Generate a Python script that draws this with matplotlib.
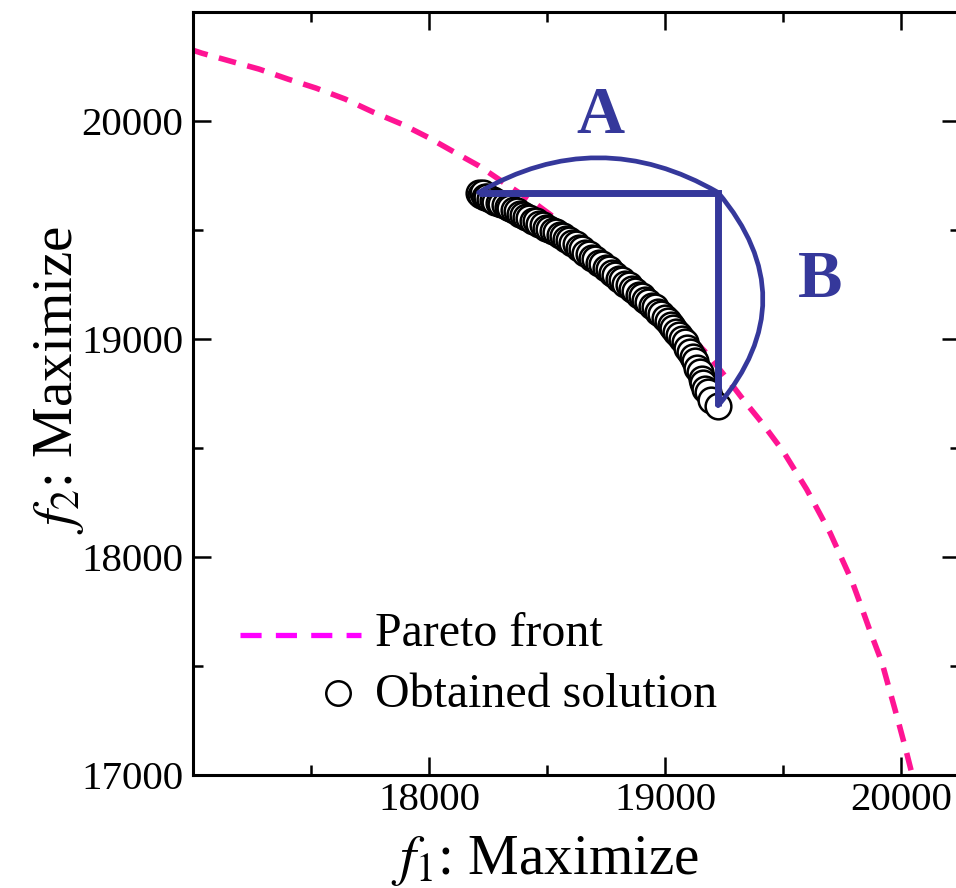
import matplotlib
matplotlib.use("Agg")
import matplotlib.pyplot as plt
from matplotlib.patches import FancyArrowPatch
from matplotlib.ticker import FixedLocator

plt.rcParams["font.family"] = ["Liberation Serif", "DejaVu Serif"]
plt.rcParams["mathtext.fontset"] = "stix"

# Pareto front (f1, f2)
pareto_f1 = [16990, 17038, 17157, 17280, 17403, 17521, 17644, 17763, 17886, 17996,
             18114, 18212, 18331, 18441, 18521, 18700, 18850, 19000, 19178, 19280,
             19335, 19407, 19500, 19600, 19700, 19792, 19831, 19873, 19919, 19953,
             19987, 20021, 20050]
pareto_f2 = [20328, 20311, 20275, 20238, 20192, 20151, 20101, 20041, 19985, 19925,
             19853, 19794, 19707, 19629, 19565, 19420, 19290, 19131, 18933, 18795,
             18717, 18621, 18486, 18311, 18110, 17890, 17775, 17648, 17517, 17384,
             17252, 17114, 16990]

# Obtained solutions (f1, f2)
solution_f1 = [18210, 18219, 18227, 18238, 18246, 18257, 18270, 18281, 18295, 18306,
               18320, 18333, 18345, 18360, 18372, 18387, 18398, 18413, 18425, 18440,
               18453, 18468, 18481, 18497, 18509, 18524, 18538, 18553, 18566, 18580,
               18595, 18607, 18622, 18636, 18650, 18663, 18678, 18692, 18705, 18720,
               18733, 18748, 18761, 18776, 18790, 18803, 18818, 18831, 18846, 18860,
               18873, 18888, 18901, 18916, 18929, 18944, 18957, 18972, 18985, 18999,
               19011, 19024, 19035, 19048, 19059, 19071, 19083, 19095, 19106, 19117,
               19127, 19137, 19147, 19155, 19163, 19171, 19182, 19195, 19225]
solution_f2 = [19672, 19660, 19668, 19653, 19650, 19640, 19637, 19628, 19626, 19618,
               19615, 19604, 19601, 19590, 19586, 19575, 19571, 19560, 19555, 19543,
               19539, 19527, 19523, 19511, 19506, 19494, 19490, 19477, 19472, 19459,
               19454, 19440, 19434, 19419, 19412, 19396, 19389, 19372, 19366, 19348,
               19343, 19325, 19319, 19301, 19295, 19277, 19271, 19253, 19247, 19229,
               19222, 19203, 19196, 19178, 19171, 19152, 19145, 19125, 19116, 19096,
               19083, 19064, 19052, 19031, 19019, 18998, 18984, 18960, 18942, 18916,
               18897, 18868, 18848, 18818, 18800, 18772, 18755, 18722, 18694]

x_ticks = [18000, 19000, 20000]
x_minor = [17500, 18500, 19500]
y_ticks = [17000, 18000, 19000, 20000]
y_minor = [17500, 18500, 19500]

PINK = "#ff1493"
LEGEND_PINK = "#ff00ff"
BLUE = "#35389b"

fig = plt.figure(figsize=(9.56, 8.88), dpi=100)
ax = fig.add_axes([193 / 956, 113 / 888, 767 / 956, 763 / 888])

# Pareto front
ax.plot(pareto_f1, pareto_f2, color=PINK, lw=4, dashes=(3.2, 2.1),
        dash_capstyle="butt", zorder=2)

# Obtained solutions
ax.scatter(solution_f1, solution_f2, s=18.5 ** 2, facecolor="white",
           edgecolor="black", linewidths=1.8, zorder=3)

# Extent brackets of the obtained solutions
f1_min, f1_max = min(solution_f1), max(solution_f1)
f2_min, f2_max = min(solution_f2), max(solution_f2)
ax.plot([f1_min, f1_max, f1_max], [f2_max, f2_max, f2_min], color=BLUE, lw=5,
        solid_joinstyle="miter", solid_capstyle="butt", zorder=4)
arc_a = FancyArrowPatch((f1_min, f2_max), (f1_max, f2_max),
                        connectionstyle="arc3,rad=-0.29", arrowstyle="-",
                        color=BLUE, lw=3.4, shrinkA=0, shrinkB=0, zorder=4)
arc_b = FancyArrowPatch((f1_max, f2_max), (f1_max, f2_min),
                        connectionstyle="arc3,rad=-0.42", arrowstyle="-",
                        color=BLUE, lw=3.4, shrinkA=0, shrinkB=0, zorder=4)
ax.add_patch(arc_a)
ax.add_patch(arc_b)
ax.text(18725, 19945, "A", ha="center", va="baseline", fontsize=48,
        fontweight="bold", color=BLUE)
ax.text(19657, 19192, "B", ha="center", va="baseline", fontsize=48,
        fontweight="bold", color=BLUE)

# Legend
ax.plot([0.0613, 0.219], [0.1835, 0.1835], transform=ax.transAxes,
        color=LEGEND_PINK, lw=3.8, dashes=(4.0, 2.7), dash_capstyle="butt",
        clip_on=False)
ax.plot([0.189], [0.1075], transform=ax.transAxes, marker="o", ms=17.6,
        mfc="white", mec="black", mew=1.8, ls="none", clip_on=False)
ax.text(0.2373, 0.169, "Pareto front", transform=ax.transAxes, fontsize=34.5,
        va="baseline", ha="left")
ax.text(0.2373, 0.0891, "Obtained solution", transform=ax.transAxes,
        fontsize=34.5, va="baseline", ha="left")

# Axes
ax.set_xlim(17000, 20250)
ax.set_ylim(17000, 20500)
ax.xaxis.set_major_locator(FixedLocator(x_ticks))
ax.xaxis.set_minor_locator(FixedLocator(x_minor))
ax.yaxis.set_major_locator(FixedLocator(y_ticks))
ax.yaxis.set_minor_locator(FixedLocator(y_minor))
ax.tick_params(which="both", direction="in", top=True, right=True, width=1.8)
ax.tick_params(which="major", length=13, labelsize=29.5)
ax.tick_params(which="minor", length=7.5)
ax.tick_params(axis="x", which="major", pad=5)
ax.tick_params(axis="y", which="major", pad=7)
for sp in ax.spines.values():
    sp.set_linewidth(2.2)

ax.set_xlabel(r"$f_1$: Maximize", fontsize=41)
ax.xaxis.label.set_va("baseline")
ax.xaxis.set_label_coords(0.459, -0.130)
ax.set_ylabel(r"$f_2$: Maximize", fontsize=41)
ax.yaxis.label.set_va("baseline")
ax.yaxis.set_label_coords(-0.158, 0.518)

fig.savefig("out.png", dpi=100)
